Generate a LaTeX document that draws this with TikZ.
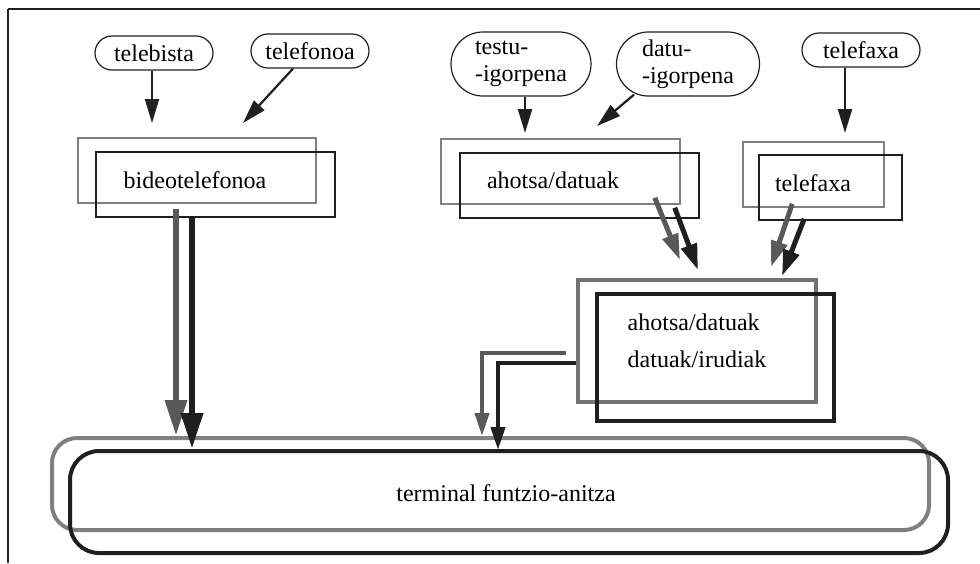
\documentclass[tikz,border=0pt]{standalone}
\usepackage{fontspec}
\setmainfont{Liberation Serif}
\usetikzlibrary{arrows.meta}
\definecolor{boxgrey}{gray}{0.5}
\definecolor{arrgrey}{gray}{0.35}
\definecolor{inkblack}{gray}{0.12}
\tikzset{
  bubble/.style={draw=inkblack, line width=0.6pt, rounded corners=8.5pt, minimum width=59pt, minimum height=17pt, inner sep=0pt},
  bubbletwo/.style={draw=inkblack, line width=0.6pt, rounded corners=15.9pt, minimum height=32pt, inner sep=0pt, align=left},
  greybox/.style={draw=boxgrey, line width=0.75pt, inner sep=0pt},
  blackbox/.style={draw=inkblack, line width=0.75pt, inner sep=0pt},
  thinarrow/.style={draw=inkblack, line width=1.1pt, -{Triangle[length=12pt,width=7pt]}},
  gthick/.style={draw=arrgrey, line width=3.2pt, -{Triangle[length=18pt,width=10.5pt]}},
  bthick/.style={draw=inkblack, line width=3.4pt, -{Triangle[length=18pt,width=10.5pt]}},
  gmid/.style={draw=arrgrey, line width=2.5pt, -{Triangle[length=13pt,width=8pt]}},
  bmid/.style={draw=inkblack, line width=2.5pt, -{Triangle[length=13pt,width=8pt]}},
  gsmall/.style={draw=arrgrey, line width=2pt, -{Triangle[length=11.5pt,width=7pt]}},
  bsmall/.style={draw=inkblack, line width=2pt, -{Triangle[length=11.5pt,width=7pt]}}
}
\begin{document}
\begin{tikzpicture}[x=0.5pt,y=-0.5pt,font=\fontsize{12pt}{13.5pt}\selectfont]
\useasboundingbox (0,0) rectangle (980,563);
% frame
\draw[line width=1.4pt,inkblack] (980,9) -- (8,9);
\draw[line width=1pt,inkblack] (8,9) -- (8,563);
% sources
\node[bubble] (telebista) at (154,53) {telebista};
\node[bubble] (telefonoa) at (310,51) {telefonoa};
\node[bubbletwo,minimum width=70pt] (testu) at (521,64) {testu-\\-igorpena};
\node[bubbletwo,minimum width=71.5pt] (datu) at (688,64) {datu-\\-igorpena};
\node[bubble] (faxin) at (861,50) {telefaxa};
% services
\node[greybox,minimum width=119pt,minimum height=32.5pt] (bideoG) at (197,170.5) {};
\node[blackbox,minimum width=119.5pt,minimum height=32.5pt] (bideoB) at (215.5,184.5) {};
\node (bideo) at (195,180) {bideotelefonoa};
\node[greybox,minimum width=119.5pt,minimum height=32.5pt] (ahotsaG) at (560.5,171.5) {};
\node[blackbox,minimum width=119.5pt,minimum height=32.5pt] (ahotsaB) at (579.5,185.5) {};
\node (ahotsa) at (553,180) {ahotsa/datuak};
\node[greybox,minimum width=70.5pt,minimum height=32.5pt] (faxG) at (813.5,174.5) {};
\node[blackbox,minimum width=71.5pt,minimum height=32.5pt] (faxB) at (830.5,187.5) {};
\node (fax) at (813,183) {telefaxa};
% mixed box
\node[greybox,line width=2pt,draw=arrgrey!85,minimum width=119pt,minimum height=61pt] (mixG) at (697,341) {};
\node[blackbox,line width=2pt,minimum width=118.5pt,minimum height=63.5pt] (mixB) at (715.5,357.5) {};
\node[align=left,font=\fontsize{12pt}{18.5pt}\selectfont] (mix) at (697,341) {ahotsa/datuak\\datuak/irudiak};
% terminal
\node[draw=boxgrey,line width=2pt,rounded corners=12.5pt,minimum width=438.5pt,minimum height=46pt] (terminalG) at (490.5,484) {};
\node[draw=inkblack,line width=2pt,rounded corners=14.5pt,minimum width=439pt,minimum height=51pt] (terminalB) at (509,502) {};
\node (terminal) at (506,493) {terminal funtzio-anitza};
% arrows in
\coordinate (tvTip) at (152,123);
\coordinate (telTip) at (243,123);
\coordinate (testuTip) at (525,133);
\coordinate (datuTip) at (597,126);
\coordinate (faxTip) at (845,133);
\draw[thinarrow] (telebista.south -| tvTip) -- (tvTip);
\draw[thinarrow] ([xshift=-8.5pt]telefonoa.south) -- (telTip);
\draw[thinarrow] (testu.south -| testuTip) -- (testuTip);
\draw[thinarrow] ([xshift=-27pt,yshift=1pt]datu.south) -- (datuTip);
\draw[thinarrow] (faxin.south -| faxTip) -- (faxTip);
% arrows out
\draw[gthick,shorten <=2.5pt] ([xshift=-10.5pt]bideoG.south) -- ([xshift=-10.5pt]bideoG.south |- terminalG.north);
\draw[bthick] ([xshift=-11.75pt]bideoB.south) -- ([xshift=-11.75pt]bideoB.south |- terminalB.north);
\coordinate (ahGTip) at (680,260);
\coordinate (ahBTip) at (698,270);
\coordinate (fxGTip) at (771,267);
\coordinate (fxBTip) at (782,276);
\draw[gmid] ([shift={(-13pt,3.5pt)}]ahotsaG.south east) -- (ahGTip);
\draw[bmid] ([shift={(-12.5pt,5.5pt)}]ahotsaB.south east) -- (ahBTip);
\draw[gmid] ([shift={(25pt,2pt)}]faxG.south west) -- (fxGTip);
\draw[bmid] ([shift={(23pt,1pt)}]faxB.south west) -- (fxBTip);
\coordinate (dropG) at (482,436);
\coordinate (dropB) at (498,450);
\draw[gsmall] ([shift={(-5pt,-6pt)}]mixG.west) -| (dropG);
\draw[bsmall] ([yshift=-11pt]mixG.west) -| (dropB);
\end{tikzpicture}
\end{document}
